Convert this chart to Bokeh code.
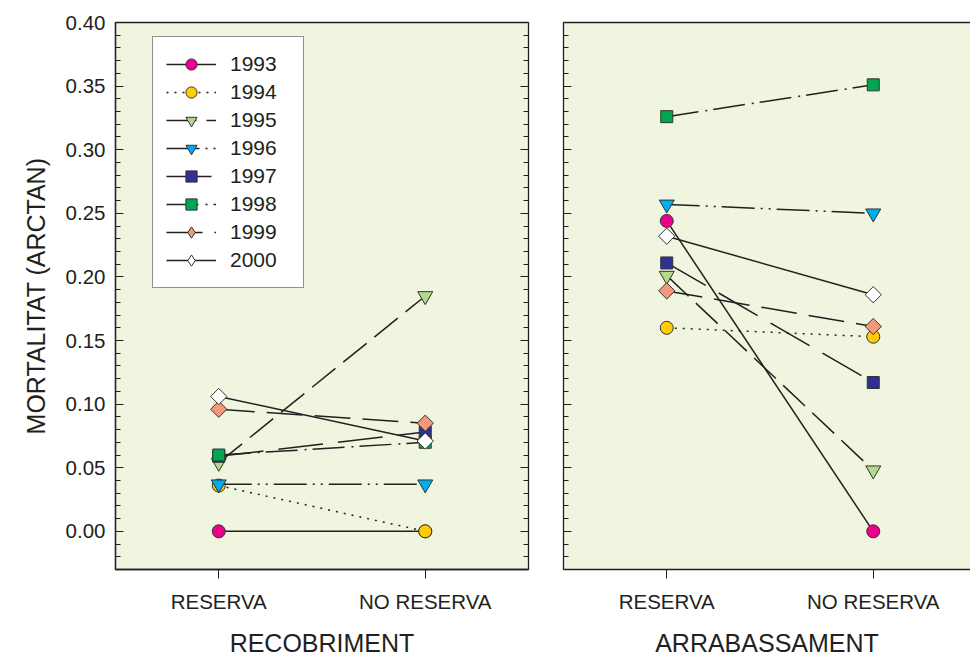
import numpy as np
from bokeh.plotting import figure
from bokeh.layouts import row
from bokeh.models import (Range1d, LinearAxis, FixedTicker, SingleIntervalTicker,
                          NumeralTickFormatter, Legend, LegendItem)
from bokeh.embed import file_html
from bokeh.resources import INLINE

# ---------------- data ----------------
years = ["1993", "1994", "1995", "1996", "1997", "1998", "1999", "2000"]
treatments = ["RESERVA", "NO RESERVA"]
panel_titles = ["RECOBRIMENT", "ARRABASSAMENT"]
y_title = "MORTALITAT (ARCTAN)"

rec_reserva    = [0.000, 0.036, 0.054, 0.037, 0.059, 0.060, 0.096, 0.106]
rec_no_reserva = [0.000, 0.000, 0.185, 0.037, 0.078, 0.070, 0.085, 0.071]
arr_reserva    = [0.244, 0.160, 0.201, 0.257, 0.211, 0.326, 0.189, 0.232]
arr_no_reserva = [0.000, 0.153, 0.048, 0.250, 0.117, 0.351, 0.161, 0.186]

# ---------------- styles ----------------
fills = ["#EC008C", "#FFCB05", "#B5D88A", "#00AEEF", "#2E3192", "#00A651", "#F4977A", "#FFFFFF"]
markers = ["circle", "circle", "inverted_triangle", "inverted_triangle", "square", "square", "square", "square"]
legend_markers = ["circle", "circle", "inverted_triangle", "inverted_triangle", "square", "square", "diamond", "diamond"]
angles = [0, 0, 0, 0, 0, 0, np.pi / 4, np.pi / 4]
sizes = [13, 13, 15, 15, 12, 12, 11.5, 11.5]
dashes = ["solid", "2 6", "30 10", "33 6 2 6 2 6", "45 15", "32 7 2 6", "36 12", "solid"]

INK = "#231F20"
BG = "#F0F5DF"
FONT = "Liberation Sans"
TICK_FS = "20.5px"
LABEL_FS = "25px"

x_pos = [1, 2]
H = 659


def make_panel(res, nores, xlabel, width, border_left, border_right, x_end, main):
    p = figure(width=width, height=H, x_range=Range1d(0.5, x_end),
               y_range=Range1d(-0.03, 0.40), output_backend="svg",
               toolbar_location=None, x_axis_type=None, y_axis_type=None,
               min_border_left=border_left, min_border_right=border_right,
               min_border_top=22, min_border_bottom=88)
    p.background_fill_color = BG
    p.border_fill_color = "white"
    p.outline_line_color = INK if main else None
    p.outline_line_width = 1.3

    # left axis
    yax = LinearAxis(ticker=SingleIntervalTicker(interval=0.05, num_minor_ticks=5),
                     formatter=NumeralTickFormatter(format="0.00"))
    yax.major_tick_in = 8
    yax.major_tick_out = 0
    yax.minor_tick_in = 5
    yax.minor_tick_out = 0
    yax.major_tick_line_color = INK
    yax.minor_tick_line_color = INK
    yax.axis_line_color = INK
    yax.axis_line_width = 1.3
    if main:
        yax.axis_label = y_title
        yax.axis_label_text_font = FONT
        yax.axis_label_text_font_size = LABEL_FS
        yax.axis_label_text_font_style = "normal"
        yax.axis_label_text_color = INK
        yax.axis_label_standoff = 13
        yax.major_label_text_font = FONT
        yax.major_label_text_font_size = TICK_FS
        yax.major_label_text_color = INK
        yax.major_label_standoff = 10
    else:
        yax.major_label_text_color = None
        yax.major_label_standoff = 0
    p.add_layout(yax, "left")

    if main:
        rax = LinearAxis(ticker=SingleIntervalTicker(interval=0.05, num_minor_ticks=5))
        rax.major_tick_in = 8
        rax.major_tick_out = 0
        rax.minor_tick_in = 5
        rax.minor_tick_out = 0
        rax.major_tick_line_color = INK
        rax.minor_tick_line_color = INK
        rax.axis_line_color = INK
        rax.major_label_text_color = None
        rax.major_label_standoff = 0
        p.add_layout(rax, "right")
    else:
        tax = LinearAxis(ticker=FixedTicker(ticks=[]))
        tax.axis_line_color = INK
        tax.axis_line_width = 1.3
        tax.major_tick_line_color = None
        tax.minor_tick_line_color = None
        tax.major_label_text_color = None
        tax.major_label_standoff = 0
        p.add_layout(tax, "above")

    # bottom axis
    xax = LinearAxis(ticker=FixedTicker(ticks=x_pos),
                     major_label_overrides={x_pos[i]: treatments[i] for i in range(2)})
    xax.major_tick_in = 0
    xax.major_tick_out = 9
    xax.minor_tick_line_color = None
    xax.major_tick_line_color = INK
    xax.axis_line_color = INK
    xax.axis_line_width = 1.3
    xax.major_label_text_font = FONT
    xax.major_label_text_font_size = TICK_FS
    xax.major_label_text_color = INK
    xax.major_label_standoff = 11
    xax.axis_label = xlabel
    xax.axis_label_text_font = FONT
    xax.axis_label_text_font_size = LABEL_FS
    xax.axis_label_text_font_style = "normal"
    xax.axis_label_text_color = INK
    xax.axis_label_standoff = 13
    p.add_layout(xax, "below")

    items = []
    for i, yr in enumerate(years):
        ys = [res[i], nores[i]]
        lr = p.line(x_pos, ys, line_color=INK, line_width=1.5, line_dash=dashes[i])
        legend_r = None
        if legend_markers[i] != markers[i]:
            # narrow diamond drawn underneath (fully covered by the rotated square);
            # used for the legend, whose glyphs are drawn without rotation
            legend_r = p.scatter(x_pos, ys, marker=legend_markers[i], size=14,
                                 fill_color=fills[i], line_color="#333333", line_width=1)
        sr = p.scatter(x_pos, ys, marker=markers[i], size=sizes[i],
                       angle=angles[i], fill_color=fills[i], line_color="#333333",
                       line_width=1)
        items.append(LegendItem(label=yr, renderers=[lr, legend_r or sr]))

    if main:
        leg = Legend(items=items, location=(37, 281))
        leg.glyph_width = 50
        leg.glyph_height = 28
        leg.spacing = 0
        leg.padding = 13
        leg.margin = 0
        leg.label_standoff = 14
        leg.label_width = 60
        leg.label_height = 20
        leg.label_text_font = FONT
        leg.label_text_font_size = "21px"
        leg.label_text_color = INK
        leg.border_line_color = INK
        leg.border_line_width = 1.2
        leg.background_fill_color = "white"
        leg.background_fill_alpha = 1.0
        p.add_layout(leg)
    return p


p1 = make_panel(rec_reserva, rec_no_reserva, panel_titles[0], 545, 115, 17, 2.5, True)
p2 = make_panel(arr_reserva, arr_no_reserva, panel_titles[1], 425, 18, 0, 0.5 + 407 / 206.5, False)

layout = row(p1, p2)
open("out.html", "w").write(file_html(layout, INLINE))
